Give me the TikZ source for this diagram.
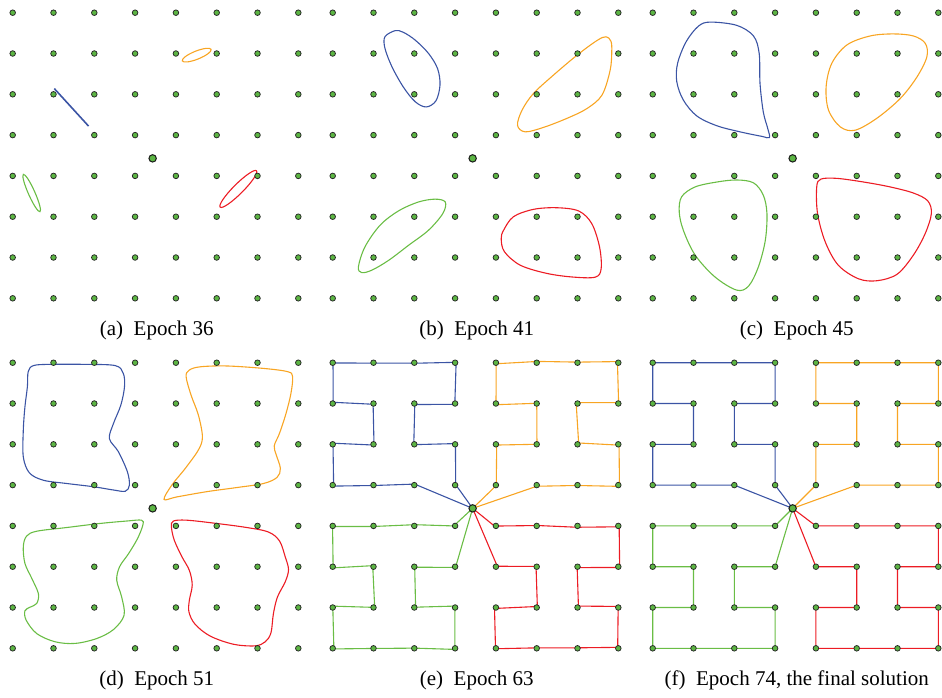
\documentclass[tikz,border=0pt]{standalone}
\usepackage{fontspec}
\setmainfont{Liberation Serif}
\usetikzlibrary{calc}
\pgfdeclarelayer{background}
\pgfsetlayers{background,main}

\definecolor{tourblue}{HTML}{3B54A4}
\definecolor{tourorange}{HTML}{F8A523}
\definecolor{tourgreen}{HTML}{6ABD45}
\definecolor{tourred}{HTML}{EC1C24}
\definecolor{citygreen}{HTML}{5CB543}

% 8x8 cities and the depot of one panel
\newcommand{\citygrid}[1]{%
  \foreach \i in {0,...,7}
    \foreach \j in {0,...,7}
      \node[city] (#1-\i-\j) at (\i,\j) {};
  \node[depot] (#1-depot) at (3.43,3.57) {};
}
% closed tour from the depot through a list of cities
\newcommand{\tour}[3]{%
  \draw[#2] (#1-depot.center) \foreach \c in #3 { -- (#1-\c.center) } -- cycle;
}
\newcommand{\roughtour}[3]{%
  \draw[#2] (#1-depot.center) \foreach \c in #3 { -- ($(#1-\c.center)+(rand*0.035,rand*0.035)$) } -- cycle;
}
\newcommand{\bluelist}{3-3,3-2,2-2,2-1,3-1,3-0,2-0,1-0,0-0,0-1,1-1,1-2,0-2,0-3,1-3,2-3}
\newcommand{\orangelist}{4-3,4-2,5-2,5-1,4-1,4-0,5-0,6-0,7-0,7-1,6-1,6-2,7-2,7-3,6-3,5-3}
\newcommand{\greenlist}{3-4,2-4,1-4,0-4,0-5,1-5,1-6,0-6,0-7,1-7,2-7,3-7,3-6,2-6,2-5,3-5}
\newcommand{\redlist}{4-4,5-4,6-4,7-4,7-5,6-5,6-6,7-6,7-7,6-7,5-7,4-7,4-6,5-6,5-5,4-5}

\begin{document}
\begin{tikzpicture}[
    city/.style={circle, inner sep=0pt, minimum size=5.6pt, fill=citygreen, draw=black!85, line width=0.75pt},
    depot/.style={circle, inner sep=0pt, minimum size=7.4pt, fill=citygreen, draw=black!90, line width=1pt},
    blueline/.style={draw=tourblue, line width=1.1pt},
    orangeline/.style={draw=tourorange, line width=1.1pt},
    greenline/.style={draw=tourgreen, line width=1.1pt},
    redline/.style={draw=tourred, line width=1.1pt},
    ring/.style={smooth cycle, tension=0.55},
    caption/.style={anchor=base, inner sep=0pt, font=\fontsize{21}{25}\selectfont}
  ]
  \useasboundingbox (0,0) rectangle (942pt,-697pt);
  \pgfmathsetseed{11}

  % (a)
  \begin{scope}[shift={(12.7pt,-12.7pt)}, x=40.8pt, y=-40.8pt]
    \citygrid{a}
    \begin{pgfonlayer}{background}
      \draw[blueline, line width=1.6pt] (1.02,1.86) -- (1.86,2.78);
      \draw[orangeline, rotate around={21.8:(4.51,1.04)}] (4.51,1.04) ellipse (0.38 and 0.1);
      \draw[greenline, rotate around={-66:(0.465,4.42)}] (0.465,4.42) ellipse (0.5 and 0.08);
      \draw[redline, rotate around={45:(5.53,4.32)}] (5.53,4.32) ellipse (0.63 and 0.12);
    \end{pgfonlayer}
    \node[caption] (a-cap) at (3.53,7.9) {(a)\enspace Epoch 36};
  \end{scope}

  % (b)
  \begin{scope}[shift={(332.7pt,-12.7pt)}, x=40.8pt, y=-40.8pt]
    \citygrid{b}
    \begin{pgfonlayer}{background}
      \draw[blueline] plot[ring] coordinates {(1.53,0.44) (1.28,0.59) (1.28,0.87) (1.45,1.32) (1.73,1.82) (2.02,2.18) (2.29,2.31) (2.53,2.16) (2.63,1.77) (2.57,1.37) (2.35,1.00) (2.02,0.67) (1.73,0.48)};
      \draw[orangeline] plot[ring] coordinates {(6.70,0.59) (6.82,0.70) (6.84,0.95) (6.80,1.41) (6.60,2.02) (6.23,2.35) (5.74,2.59) (5.17,2.81) (4.72,2.92) (4.53,2.76) (4.64,2.39) (4.92,1.98) (5.41,1.53) (5.99,1.04) (6.48,0.68)};
      \draw[greenline] plot[ring] coordinates {(2.76,4.64) (2.51,4.57) (2.10,4.64) (1.61,4.86) (1.16,5.21) (0.79,5.74) (0.63,6.23) (0.71,6.37) (0.96,6.31) (1.37,6.07) (1.86,5.70) (2.35,5.33) (2.70,4.92)};
      \draw[redline] plot[ring] coordinates {(4.19,5.33) (4.43,5.00) (4.92,4.82) (5.49,4.78) (6.03,4.86) (6.35,5.17) (6.54,5.74) (6.58,6.27) (6.44,6.48) (5.90,6.48) (5.25,6.39) (4.60,6.19) (4.21,5.86) (4.13,5.54)};
    \end{pgfonlayer}
    \node[caption] (b-cap) at (3.53,7.9) {(b)\enspace Epoch 41};
  \end{scope}

  % (c)
  \begin{scope}[shift={(652.7pt,-12.7pt)}, x=40.8pt, y=-40.8pt]
    \citygrid{c}
    \begin{pgfonlayer}{background}
      \draw[blueline] plot[ring] coordinates {(1.41,0.23) (1.12,0.33) (0.82,0.71) (0.61,1.24) (0.59,1.69) (0.75,2.14) (1.08,2.53) (1.57,2.77) (2.14,2.92) (2.67,3.03) (2.86,3.06) (2.82,2.84) (2.71,2.43) (2.63,1.73) (2.61,1.00) (2.47,0.57) (2.06,0.31)};
      \draw[orangeline] plot[ring] coordinates {(5.90,0.52) (5.33,0.57) (4.76,0.79) (4.39,1.24) (4.25,1.82) (4.31,2.39) (4.60,2.80) (4.96,2.88) (5.49,2.59) (6.07,2.10) (6.48,1.57) (6.72,1.08) (6.68,0.75) (6.39,0.57)};
      \draw[greenline] plot[ring] coordinates {(2.06,4.10) (1.57,4.15) (1.04,4.27) (0.71,4.51) (0.65,4.88) (0.75,5.33) (1.04,5.94) (1.53,6.48) (2.06,6.80) (2.35,6.70) (2.59,6.23) (2.76,5.58) (2.80,4.92) (2.71,4.47) (2.47,4.17)};
      \draw[redline] plot[ring] coordinates {(4.12,4.08) (4.02,4.27) (4.04,4.92) (4.23,5.62) (4.55,6.19) (5.04,6.52) (5.49,6.57) (5.99,6.41) (6.39,5.94) (6.68,5.41) (6.83,4.92) (6.74,4.61) (6.39,4.42) (5.82,4.27) (5.17,4.15) (4.51,4.06)};
    \end{pgfonlayer}
    \node[caption] (c-cap) at (3.53,7.9) {(c)\enspace Epoch 45};
  \end{scope}

  % (d)
  \begin{scope}[shift={(12.7pt,-362.7pt)}, x=40.8pt, y=-40.8pt]
    \citygrid{d}
    \begin{pgfonlayer}{background}
      \draw[blueline] plot[ring] coordinates {(0.51,0.07) (0.38,0.22) (0.36,0.59) (0.30,1.08) (0.26,1.65) (0.26,2.31) (0.41,2.70) (0.75,2.88) (1.32,2.96) (1.98,3.04) (2.47,3.12) (2.76,3.15) (2.86,3.00) (2.81,2.67) (2.59,2.18) (2.37,1.86) (2.47,1.49) (2.65,1.04) (2.74,0.59) (2.71,0.26) (2.51,0.07) (1.73,0.04) (0.92,0.04)};
      \draw[orangeline] plot[ring] coordinates {(3.71,3.35) (4.02,3.29) (4.76,3.16) (5.49,3.06) (6.15,2.96) (6.48,2.81) (6.56,2.59) (6.46,2.26) (6.41,2.04) (6.54,1.73) (6.70,1.24) (6.82,0.75) (6.86,0.34) (6.74,0.22) (6.15,0.14) (5.25,0.08) (4.60,0.10) (4.33,0.18) (4.25,0.34) (4.37,0.79) (4.55,1.28) (4.65,1.82) (4.55,2.14) (4.23,2.59) (3.90,3.00)};
      \draw[greenline] plot[ring] coordinates {(3.16,3.86) (2.80,3.88) (2.14,3.94) (1.32,4.04) (0.59,4.13) (0.34,4.25) (0.26,4.51) (0.30,4.92) (0.47,5.29) (0.63,5.66) (0.59,5.90) (0.43,5.99) (0.30,6.08) (0.33,6.31) (0.59,6.64) (1.04,6.84) (1.53,6.88) (2.06,6.76) (2.47,6.54) (2.73,6.19) (2.67,5.74) (2.55,5.33) (2.62,5.00) (2.84,4.68) (3.06,4.31) (3.19,3.98)};
      \draw[redline] plot[ring] coordinates {(3.94,3.88) (4.27,3.86) (5.00,3.94) (5.74,4.04) (6.27,4.15) (6.54,4.37) (6.68,4.76) (6.76,5.07) (6.68,5.37) (6.49,5.74) (6.39,6.15) (6.33,6.62) (6.19,6.84) (5.94,6.94) (5.41,6.90) (4.84,6.70) (4.47,6.41) (4.32,6.11) (4.33,5.82) (4.40,5.45) (4.33,5.09) (4.15,4.76) (3.96,4.35) (3.89,4.02)};
    \end{pgfonlayer}
    \node[caption] (d-cap) at (3.53,7.9) {(d)\enspace Epoch 51};
  \end{scope}

  % (e)
  \begin{scope}[shift={(332.7pt,-362.7pt)}, x=40.8pt, y=-40.8pt]
    \citygrid{e}
    \begin{pgfonlayer}{background}
      \roughtour{e}{blueline}{\bluelist}
      \roughtour{e}{orangeline}{\orangelist}
      \roughtour{e}{greenline}{\greenlist}
      \roughtour{e}{redline}{\redlist}
    \end{pgfonlayer}
    \node[caption] (e-cap) at (3.53,7.9) {(e)\enspace Epoch 63};
  \end{scope}

  % (f)
  \begin{scope}[shift={(652.7pt,-362.7pt)}, x=40.8pt, y=-40.8pt]
    \citygrid{f}
    \begin{pgfonlayer}{background}
      \tour{f}{blueline}{\bluelist}
      \tour{f}{orangeline}{\orangelist}
      \tour{f}{greenline}{\greenlist}
      \tour{f}{redline}{\redlist}
    \end{pgfonlayer}
    \node[caption] (f-cap) at (3.53,7.9) {(f)\enspace Epoch 74, the final solution};
  \end{scope}
\end{tikzpicture}
\end{document}
